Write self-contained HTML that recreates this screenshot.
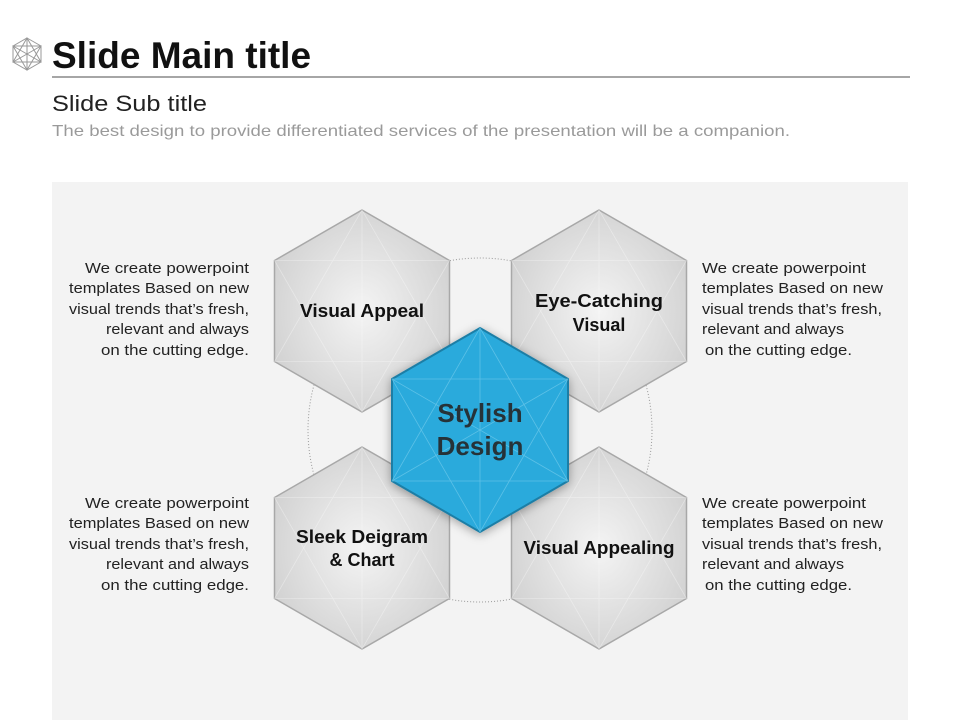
<!DOCTYPE html>
<html><head><meta charset="utf-8"><style>
html,body{margin:0;padding:0;width:960px;height:720px;overflow:hidden;background:#fff;}
svg{display:block;font-family:"Liberation Sans",sans-serif;}
</style></head><body>
<svg width="960" height="720" viewBox="0 0 960 720">
<defs>
<radialGradient id="g" cx="50%" cy="50%" r="55%">
<stop offset="0" stop-color="#f4f4f4"/><stop offset="1" stop-color="#d2d2d2"/>
</radialGradient>
<filter id="sh" x="-30%" y="-30%" width="160%" height="160%"><feDropShadow dx="0" dy="2" stdDeviation="5" flood-color="#000" flood-opacity="0.35"/></filter>
</defs>
<rect width="960" height="720" fill="#fff"/>
<rect x="52" y="182" width="856" height="538" fill="#f3f3f3"/>
<g fill="none" stroke="#999" stroke-width="1">
<polygon points="27,38 41,46 41,62 27,70 13,62 13,46"/>
<path d="M27,38 L41,62 L13,62 Z M27,70 L41,46 L13,46 Z M27,38 L27,70 M13,46 L41,62 M41,46 L13,62"/>
</g>
<text x="52" y="68" font-size="37" font-weight="bold" fill="#111">Slide Main title</text>
<line x1="52" y1="77" x2="910" y2="77" stroke="#888" stroke-width="1.5"/>
<text x="52" y="111" font-size="22" fill="#222" textLength="155" lengthAdjust="spacingAndGlyphs">Slide Sub title</text>
<text x="52" y="136" font-size="16" fill="#9a9a9a" textLength="738" lengthAdjust="spacingAndGlyphs">The best design to provide differentiated services of the presentation will be a companion.</text>
<circle cx="480" cy="430" r="172" fill="none" stroke="#999" stroke-width="1" stroke-dasharray="1,2"/>
<g stroke="#a8a8a8" stroke-width="1.5" fill="url(#g)">
<polygon points="362,210 449.5,260.5 449.5,361.5 362,412 274.5,361.5 274.5,260.5"/>
<polygon points="599,210 686.5,260.5 686.5,361.5 599,412 511.5,361.5 511.5,260.5"/>
<polygon points="362,447 449.5,497.5 449.5,598.5 362,649 274.5,598.5 274.5,497.5"/>
<polygon points="599,447 686.5,497.5 686.5,598.5 599,649 511.5,598.5 511.5,497.5"/>
</g>
<g stroke="#fff" stroke-width="0.8" opacity="0.35" fill="none">
<path d="M362,210 L449.5,361.5 L274.5,361.5 Z M362,412 L449.5,260.5 L274.5,260.5 Z M362,210 L362,412"/>
<path d="M599,210 L686.5,361.5 L511.5,361.5 Z M599,412 L686.5,260.5 L511.5,260.5 Z M599,210 L599,412"/>
<path d="M362,447 L449.5,598.5 L274.5,598.5 Z M362,649 L449.5,497.5 L274.5,497.5 Z M362,447 L362,649"/>
<path d="M599,447 L686.5,598.5 L511.5,598.5 Z M599,649 L686.5,497.5 L511.5,497.5 Z M599,447 L599,649"/>
</g>
<g font-size="18" font-weight="bold" fill="#111" text-anchor="middle" lengthAdjust="spacingAndGlyphs">
<text x="362" y="317" textLength="124" lengthAdjust="spacingAndGlyphs">Visual Appeal</text>
<text x="599" y="307" textLength="128" lengthAdjust="spacingAndGlyphs">Eye-Catching</text>
<text x="599" y="331">Visual</text>
<text x="362" y="543" textLength="132" lengthAdjust="spacingAndGlyphs">Sleek Deigram</text>
<text x="362" y="566">&amp; Chart</text>
<text x="599" y="554" textLength="151" lengthAdjust="spacingAndGlyphs">Visual Appealing</text>
</g>
<polygon points="480,328 568,379 568,481 480,532 392,481 392,379" fill="#29aadc" stroke="#1b7ea6" stroke-width="2" filter="url(#sh)"/>
<g stroke="#7fd0ee" stroke-width="0.8" fill="none" opacity="0.6">
<path d="M480,328 L568,481 L392,481 Z M480,532 L568,379 L392,379 Z M480,328 L480,532 M392,379 L568,481 M568,379 L392,481"/>
</g>
<g font-size="26" font-weight="bold" fill="#263238" text-anchor="middle">
<text x="480" y="422">Stylish</text>
<text x="480" y="455">Design</text>
</g>
<g font-size="14.5" fill="#222">
<g text-anchor="end">
<text x="249" y="273" textLength="164" lengthAdjust="spacingAndGlyphs">We create powerpoint</text>
<text x="249" y="293" textLength="180" lengthAdjust="spacingAndGlyphs">templates Based on new</text>
<text x="249" y="314" textLength="180" lengthAdjust="spacingAndGlyphs">visual trends that’s fresh,</text>
<text x="249" y="334" textLength="143" lengthAdjust="spacingAndGlyphs">relevant and always</text>
<text x="249" y="355" textLength="148" lengthAdjust="spacingAndGlyphs">on the cutting edge.</text>
<text x="249" y="508" textLength="164" lengthAdjust="spacingAndGlyphs">We create powerpoint</text>
<text x="249" y="528" textLength="180" lengthAdjust="spacingAndGlyphs">templates Based on new</text>
<text x="249" y="549" textLength="180" lengthAdjust="spacingAndGlyphs">visual trends that’s fresh,</text>
<text x="249" y="569" textLength="143" lengthAdjust="spacingAndGlyphs">relevant and always</text>
<text x="249" y="590" textLength="148" lengthAdjust="spacingAndGlyphs">on the cutting edge.</text>
</g>
<text x="702" y="273" textLength="164" lengthAdjust="spacingAndGlyphs">We create powerpoint</text>
<text x="702" y="293" textLength="181" lengthAdjust="spacingAndGlyphs">templates Based on new</text>
<text x="702" y="314" textLength="180" lengthAdjust="spacingAndGlyphs">visual trends that’s fresh,</text>
<text x="702" y="334" textLength="142" lengthAdjust="spacingAndGlyphs">relevant and always</text>
<text x="705" y="355" textLength="147" lengthAdjust="spacingAndGlyphs">on the cutting edge.</text>
<text x="702" y="508" textLength="164" lengthAdjust="spacingAndGlyphs">We create powerpoint</text>
<text x="702" y="528" textLength="181" lengthAdjust="spacingAndGlyphs">templates Based on new</text>
<text x="702" y="549" textLength="180" lengthAdjust="spacingAndGlyphs">visual trends that’s fresh,</text>
<text x="702" y="569" textLength="142" lengthAdjust="spacingAndGlyphs">relevant and always</text>
<text x="705" y="590" textLength="147" lengthAdjust="spacingAndGlyphs">on the cutting edge.</text>
</g>
</svg>
</body></html>
